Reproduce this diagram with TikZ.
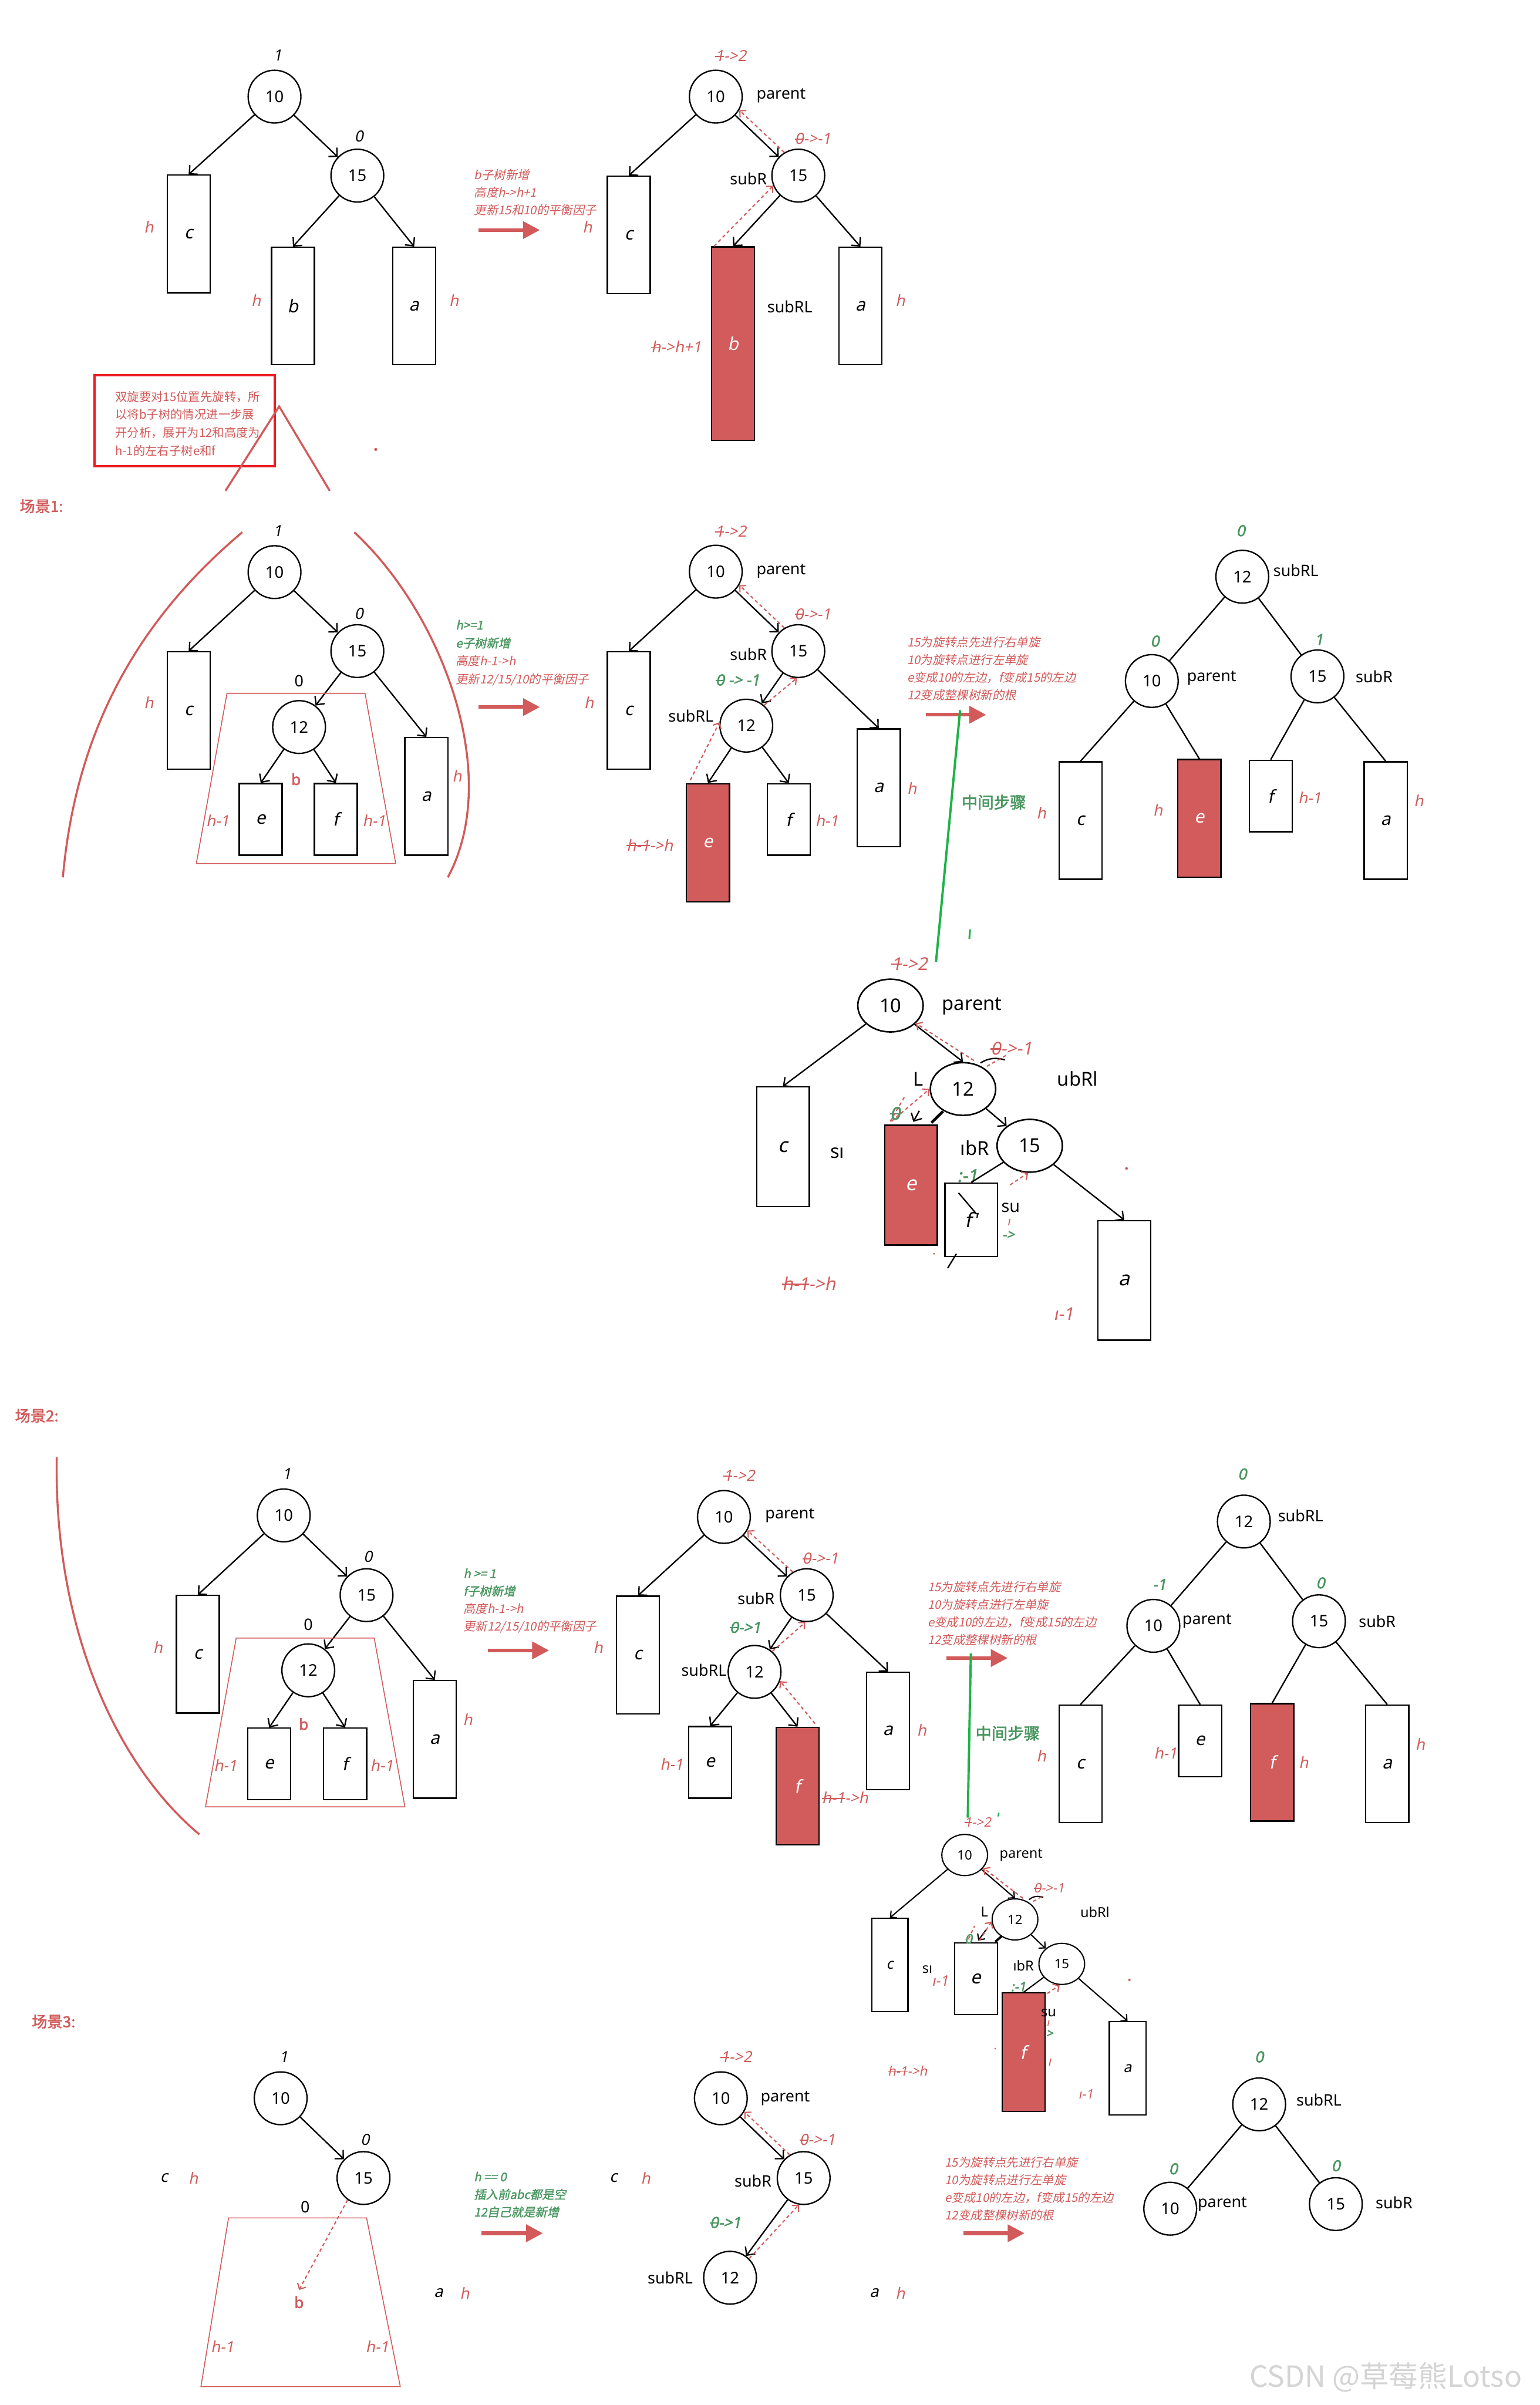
\documentclass[tikz,border=0pt]{standalone}
\usepackage{fontspec}
\setmainfont{Noto Sans}
\newfontfamily\itf{Noto Sans}[FakeSlant=0.2]
\newfontfamily\itfb{Noto Sans}[FakeSlant=0.2,FakeBold=2]
\newfontfamily\sfb{Noto Sans}[FakeBold=2]
\newfontfamily\cjk{Noto Sans CJK SC}
\newfontfamily\cjki{Noto Sans CJK SC}[FakeSlant=0.2]
\newfontfamily\cjkb{Noto Sans CJK SC}[FakeBold=2]
\newfontfamily\cjkib{Noto Sans CJK SC}[FakeSlant=0.2,FakeBold=1.5]
\usetikzlibrary{arrows.meta,shapes.geometric}
\definecolor{redt}{RGB}{210,90,90}
\definecolor{boxred}{RGB}{210,92,92}
\definecolor{greent}{RGB}{72,150,95}
\definecolor{lgreen}{RGB}{30,178,72}
\definecolor{frame}{RGB}{236,28,36}
\definecolor{wm}{RGB}{212,212,212}
\newsavebox\stkbox
\newcommand\stk[1]{\sbox\stkbox{#1}\rlap{\rule[0.3em]{\wd\stkbox}{0.075em}}\usebox\stkbox}
\tikzset{
  nd/.style={circle, draw, line width=0.9pt, minimum size=34.4pt, inner sep=0pt, font=\fontsize{10.5}{12}\selectfont},
  ndF/.style={ellipse, draw, line width=1pt, minimum width=42.6pt, minimum height=34.4pt, inner sep=0pt, font=\fontsize{12.5}{14}\selectfont},
  ndJ/.style={ellipse, draw, line width=0.8pt, minimum width=29.8pt, minimum height=26.8pt, inner sep=0pt, font=\fontsize{8.5}{10}\selectfont},
  bx/.style={rectangle, draw, line width=0.9pt, minimum width=28pt, inner sep=0pt, font=\itf\fontsize{11.5}{12}\selectfont},
  hh/.style={minimum height=76.6pt},
  hm/.style={minimum height=46.6pt},
  rbx/.style={fill=boxred, text=white},
  lbl/.style={inner sep=0pt, font=\fontsize{10.3}{12}\selectfont},
  rl/.style={inner sep=0pt, text=redt, font=\itf\fontsize{10}{12}\selectfont},
  gl/.style={inner sep=0pt, text=greent, font=\itfb\fontsize{10}{12}\selectfont},
  kl/.style={inner sep=0pt, font=\itf\fontsize{10}{12}\selectfont},
  rbl/.style={inner sep=0pt, text=redt, font=\sfb\fontsize{10}{12}\selectfont},
  ar/.style={line width=0.9pt, -{Straight Barb[length=4pt,width=8pt]}},
  arJ/.style={line width=0.8pt, -{Straight Barb[length=3pt,width=6pt]}},
  ln/.style={line width=0.9pt},
  dar/.style={draw=redt, line width=0.8pt, dash pattern=on 2.2pt off 1.8pt, -{Straight Barb[length=3pt,width=6pt]}},
  dln/.style={draw=redt, line width=0.8pt, dash pattern=on 2.2pt off 1.8pt},
  tha/.style={draw=redt, line width=2.4pt, -{Triangle[length=11pt,width=11pt]}},
  note/.style={inner sep=0pt, anchor=north west, align=left, text=redt, font=\cjki\fontsize{7.8}{11.5}\selectfont},
  trap/.style={draw=redt, line width=0.6pt},
  bigc/.style={draw=redt, line width=1.3pt},
  sc/.style={inner sep=0pt, text=redt, font=\cjkb\fontsize{10}{12}\selectfont},
  zh/.style={inner sep=0pt, text=greent, font=\cjkb\fontsize{10.5}{12}\selectfont},
}
\begin{document}
\begin{tikzpicture}[x=1pt,y=-1pt]
\useasboundingbox (0,0) rectangle (1004,1568);
\fill[white] (0,0) rectangle (1004,1568);

% ================= TOP : tree A
\node[nd] (A10) at (179,63) {10};
\node[nd] (A15) at (233,114.5) {15};
\node[kl] (A1) at (181,36) {1};
\node[kl] (A2) at (234,89) {0};
\node[bx,hh] (Ac) at (123,152.5) {c};
\node[bx,hh] (Ab) at (191,199.5) {b};
\node[bx,hh] (Aa) at (270,199.5) {a};
\node[rl] (A3) at (97,148) {h};
\node[rl] (A4) at (167,196) {h};
\node[rl] (A5) at (296,196) {h};
\draw[ar] (A10) -- (Ac.north);
\draw[ar] (A10) -- (A15);
\draw[ar] (A15) -- (Ab.north);
\draw[ar] (A15) -- (Aa.north);

\node[note] (N1) at (309,110) {b子树新增\\高度h->h+1\\更新15和10的平衡因子};
\coordinate (T1s) at (312,150); \coordinate (T1e) at (352,150);
\draw[tha] (T1s) -- (T1e);

% tree B
\node[nd] (B10) at (466.7,63) {10};
\node[nd] (B15) at (520.5,114.5) {15};
\node[rl] (B1) at (476.5,36.5) {\stk{1}->2};
\node[lbl] (B2) at (509.3,62.5) {parent};
\node[lbl] (B3) at (488,116.5) {subR};
\node[rl] (B4) at (530,90.5) {\stk{0}->-1};
\node[bx,hh] (Bc) at (410,153.2) {c};
\node[bx,rbx,minimum height=126pt] (Bb) at (478,224) {b};
\node[bx,hh] (Ba) at (561,199.5) {a};
\node[rl] (B5) at (383,148) {h};
\node[lbl] (B6) at (515,200) {subRL};
\node[rl] (B7) at (441,226) {\stk{h}->h+1};
\node[rl] (B8) at (587,196) {h};
\draw[ar] (B10) -- (Bc.north);
\draw[ar] (B10) -- (B15);
\draw[ar] (B15) -- (Bb.north);
\draw[ar] (B15) -- (Ba.north);
\draw[dar] (B15.121) -- (B10.-30);
\draw[dar] ([xshift=2pt]Bb.north west) -- (B15.-158);

% red frame note
\node[draw=frame, line width=1.6pt, minimum width=117.5pt, minimum height=59.5pt, inner sep=0pt] (RB) at (120.25,274.25) {};
\node[inner sep=0pt, anchor=north west, align=left, text=redt, font=\cjk\fontsize{7.8}{11.8}\selectfont] (RT) at (75,254.7)
  {双旋要对15位置先旋转，所\\以将b子树的情况进一步展\\开分析，展开为12和高度为\\h-1的左右子树e和f};
\coordinate (P1) at (147,320); \coordinate (P2) at (182,265); \coordinate (P3) at (215,320);
\draw[bigc] (P1) -- (P2) -- (P3);
\fill[redt] (245,293) circle (1pt);

\node[sc] (S1) at (27,330) {场景1:};

% ================= SCENE 1 : tree C
\node[nd] (C10) at (179,373) {10};
\node[nd] (C15) at (233,424.5) {15};
\node[nd] (C12) at (195,474) {12};
\node[kl] (C1) at (181,346) {1};
\node[kl] (C2) at (234,400) {0};
\node[lbl] (C3) at (195,444) {0};
\node[bx,hh] (Cc) at (123,463.2) {c};
\node[bx,hm] (Ce) at (170,534.2) {e};
\node[bx,hm] (Cf) at (219,534.2) {f};
\node[bx,hh] (Ca) at (278,519.2) {a};
\node[rl] (C4) at (97,458) {h};
\node[rl] (C5) at (142,535) {h-1};
\node[rl] (C6) at (244,535) {h-1};
\node[rbl] (C7) at (193,508) {b};
\node[rl] (C8) at (298,506) {h};
\draw[ar] (C10) -- (Cc.north);
\draw[ar] (C10) -- (C15);
\draw[ar] (C15) -- (C12);
\draw[ar] (C15) -- (Ca.north);
\draw[ar] (C12) -- (Ce.north);
\draw[ar] (C12) -- (Cf.north);
\draw[trap] (148,452) -- (238,452) -- (258,563) -- (128,563) -- cycle;
\draw[bigc] (158,347) .. controls (95,400) and (50,470) .. (41,572);
\draw[bigc] (231,347) .. controls (288,400) and (328,505) .. (292,572);

\node[note, font=\cjki\fontsize{7.8}{11.8}\selectfont] (N2) at (297,404)
  {{\color{greent}\cjkib h>=1}\\{\color{greent}\cjkib e子树新增}\\高度h-1->h\\更新12/15/10的平衡因子};
\coordinate (T2s) at (312,461); \coordinate (T2e) at (352,461);
\draw[tha] (T2s) -- (T2e);

% tree D
\node[nd] (D10) at (466.7,372.7) {10};
\node[nd] (D15) at (520.5,424.5) {15};
\node[nd] (D12) at (486.6,473.1) {12};
\node[rl] (D1) at (476.5,346.5) {\stk{1}->2};
\node[lbl] (D2) at (509.3,372.6) {parent};
\node[lbl] (D3) at (488,426.5) {subR};
\node[rl] (D4) at (530,400.4) {\stk{0}->-1};
\node[gl] (D5) at (481,443.3) {\stk{0} -> -1};
\node[lbl] (D6) at (450.5,466.8) {subRL};
\node[bx,hh] (Dc) at (410,463.3) {c};
\node[bx,rbx,minimum height=77.1pt] (De) at (461.6,549.5) {e};
\node[bx,hm] (Df) at (514.3,534.3) {f};
\node[bx,hh] (Da) at (573,513.6) {a};
\node[rl] (D7) at (384,458) {h};
\node[rl] (D8) at (423.7,551) {\stk{h-1}->h};
\node[rl] (D9) at (539.2,535) {h-1};
\node[rl] (D11) at (594.6,513.9) {h};
\draw[ar] (D10) -- (Dc.north);
\draw[ar] (D10) -- (D15);
\draw[ar] (D15) -- (D12);
\draw[ar] (D15) -- (Da.north);
\draw[ar] (D12) -- (De.north);
\draw[ar] (D12) -- (Df.north);
\draw[dar] (D15.121) -- (D10.-30);
\draw[dar] (D12.49) -- (D15.-93);
\draw[dar] ([xshift=3pt,yshift=2pt]De.north west) -- (D12.173);

\node[note] (N3) at (591.3,415)
  {15为旋转点先进行右单旋\\10为旋转点进行左单旋\\e变成10的左边，f变成15的左边\\12变成整棵树新的根};
\coordinate (T3s) at (603.7,466); \coordinate (T3e) at (643,466);
\draw[tha] (T3s) -- (T3e);
\coordinate (G1s) at (626,463); \coordinate (G1e) at (610.3,627);
\draw[lgreen, line width=1.5pt] (G1s) -- (G1e);
\draw[lgreen, line width=1.2pt] (632.5,606) -- (632,612);
\node[zh] (Z1) at (648,523) {中间步骤};

% tree E
\node[nd] (E12) at (810,376) {12};
\node[nd] (E10) at (751,444) {10};
\node[nd] (E15) at (859,441) {15};
\node[gl] (E1) at (809,346) {0};
\node[lbl] (E2) at (845,372) {subRL};
\node[gl] (E3) at (753,418) {0};
\node[lbl] (E4) at (790,442) {parent};
\node[gl] (E5) at (860,417) {1};
\node[lbl] (E6) at (896,441) {subR};
\node[bx,hh] (Ec) at (704.5,535) {c};
\node[bx,hh,rbx] (Ee) at (782,533.5) {e};
\node[bx,hm] (Ef) at (828.5,519) {f};
\node[bx,hh] (Ea) at (903.5,535) {a};
\node[rl] (E7) at (679,530) {h};
\node[rl] (E8) at (755,528) {h};
\node[rl] (E9) at (854,520) {h-1};
\node[rl] (E11) at (925,522) {h};
\draw[ln] (E12) -- (E10);
\draw[ln] (E12) -- (E15);
\draw[ln] (E10) -- (Ec.north);
\draw[ln] (E10) -- (Ee.north);
\draw[ln] (E15) -- (Ef.north);
\draw[ln] (E15) -- (Ea.north);

% tree F (intermediate, scene 1)
\node[ndF] (F10) at (580.6,655.6) {10};
\node[ndF] (F12) at (627.9,710) {12};
\node[ndF] (F15) at (671.4,747) {15};
\node[rl, font=\itf\fontsize{11.5}{12}\selectfont] (F1) at (593,628.4) {\stk{1}->2};
\node[lbl, font=\fontsize{12.5}{14}\selectfont] (F2) at (633.8,656) {parent};
\node[rl, font=\itf\fontsize{11.5}{12}\selectfont] (F3) at (659.5,683.7) {\stk{0}->-1};
\node[lbl, font=\fontsize{12.5}{14}\selectfont] (F4) at (598.9,703.5) {L};
\node[lbl, font=\fontsize{12.5}{14}\selectfont] (F5) at (702.6,703.5) {ubRl};
\node[lbl, font=\fontsize{12.5}{14}\selectfont] (F6) at (635.5,748.4) {ıbR};
\node[lbl, font=\fontsize{12.5}{14}\selectfont] (F7) at (545.9,751.8) {sı};
\node[bx, minimum width=34.3pt, minimum height=78.1pt, font=\itf\fontsize{13}{14}\selectfont] (Fc) at (510.5,747.7) {c};
\node[bx, rbx, minimum width=34.2pt, minimum height=78pt, font=\itf\fontsize{13}{14}\selectfont] (Fe) at (594.1,772.7) {e};
\node[bx, minimum width=34.3pt, minimum height=47.8pt, font=\itf\fontsize{13}{14}\selectfont] (Ff) at (633.3,795.2) {f'};
\node[bx, minimum width=34.5pt, minimum height=78pt, font=\itf\fontsize{13}{14}\selectfont] (Fa) at (733,834.8) {a};
\node[gl, font=\itfb\fontsize{11.5}{12}\selectfont] (F8) at (583.6,725.9) {\stk{0}};
\node[gl, font=\itfb\fontsize{11.5}{12}\selectfont] (F9) at (630.8,766.5) {:-1};
\node[lbl, font=\fontsize{11}{12}\selectfont] (F11) at (659,787.5) {su};
\node[rl, font=\itf\fontsize{8}{9}\selectfont] (F13) at (657.7,797) {ı};
\node[gl, font=\itfb\fontsize{9}{10}\selectfont] (F14) at (657.4,805.3) {->};
\node[rl, font=\itf\fontsize{11.5}{12}\selectfont] (F16) at (527.4,836.9) {\stk{h-1}->h};
\node[rl, font=\itf\fontsize{11.5}{12}\selectfont] (F17) at (693.5,856.5) {ı-1};
\draw[ar] (F10) -- (Fc.north);
\draw[ar] (F10) -- (F12.north);
\draw[ar] (F12) -- (F15);
\draw[ar] (F15) -- (Fa.north);
\draw[ln] (F15) -- (Ff.north);
\draw[ar] (599.4,724.2) -- (595.5,731.4);
\draw[line width=1.8pt] (614.9,724.5) -- (607.3,732);
\draw[ln] (625,777.7) -- (636.7,791.5);
\draw[ln] (623.6,817.4) -- (617.9,826.8);
\draw[ln] (639.3,693) .. controls (645,689.5) and (650,689.5) .. (655.2,691);
\draw[dar] (635,691.4) -- (F10.-35);
\draw[dln] (643.5,695.2) -- (656.1,688);
\draw[dar] (581.2,731.1) -- (F12.180);
\draw[dln] (580.4,731.1) -- (590,714.7);
\draw[dar] (658.6,772.5) -- (670.4,764.7);
\fill[redt] (734.5,761.8) circle (0.9pt);
\fill[redt] (609,817.4) circle (0.7pt);

% ================= SCENE 2
\node[sc] (S2) at (24,923) {场景2:};
\draw[bigc] (37,950) .. controls (35,1060) and (75,1150) .. (130,1196);

% tree G
\node[nd] (G10) at (185,988) {10};
\node[nd] (G15) at (239,1040) {15};
\node[nd] (G12) at (201,1089) {12};
\node[kl] (G1) at (187,961) {1};
\node[kl] (G2) at (240,1015) {0};
\node[lbl] (G3) at (201,1059) {0};
\node[bx,hh] (Gc) at (129,1078.5) {c};
\node[bx,hm] (Ge) at (175.5,1150) {e};
\node[bx,hm] (Gf) at (225,1150) {f};
\node[bx,hh] (Ga) at (283.5,1134) {a};
\node[rl] (G4) at (103,1074) {h};
\node[rl] (G5) at (147,1151) {h-1};
\node[rl] (G6) at (249,1151) {h-1};
\node[rbl] (G7) at (198,1124) {b};
\node[rl] (G8) at (305,1121) {h};
\draw[ar] (G10) -- (Gc.north);
\draw[ar] (G10) -- (G15);
\draw[ar] (G15) -- (G12);
\draw[ar] (G15) -- (Ga.north);
\draw[ar] (G12) -- (Ge.north);
\draw[ar] (G12) -- (Gf.north);
\draw[trap] (154,1068) -- (244,1068) -- (264,1178) -- (134,1178) -- cycle;

\node[note] (N4) at (302,1022.4)
  {{\color{greent}\cjkib h >= 1}\\{\color{greent}\cjkib f子树新增}\\高度h-1->h\\更新12/15/10的平衡因子};
\coordinate (T4s) at (318,1076); \coordinate (T4e) at (358,1076);
\draw[tha] (T4s) -- (T4e);

% tree H
\node[nd] (H10) at (472,989) {10};
\node[nd] (H15) at (526,1040) {15};
\node[nd] (H12) at (492,1090) {12};
\node[rl] (H1) at (482,962) {\stk{1}->2};
\node[lbl] (H2) at (515,988) {parent};
\node[lbl] (H3) at (493,1042) {subR};
\node[rl] (H4) at (535,1016) {\stk{0}->-1};
\node[lbl] (H5) at (459,1089) {subRL};
\node[gl] (H6) at (486,1061) {\stk{0}->1};
\node[bx,hh] (Hc) at (416,1079) {c};
\node[bx,hm] (He) at (463,1149) {e};
\node[bx,hh,rbx] (Hf) at (520,1164.5) {f};
\node[bx,hh] (Ha) at (579,1128.5) {a};
\node[rl] (H7) at (390,1074) {h};
\node[rl] (H8) at (438,1150) {h-1};
\node[rl] (H9) at (551,1172) {\stk{h-1}->h};
\node[rl] (H11) at (601,1128) {h};
\draw[ar] (H10) -- (Hc.north);
\draw[ar] (H10) -- (H15);
\draw[ar] (H15) -- (H12);
\draw[ar] (H15) -- (Ha.north);
\draw[ar] (H12) -- (He.north);
\draw[ar] (H12) -- (Hf.north);
\draw[dar] (H15.121) -- (H10.-30);
\draw[dar] (H12.49) -- (H15.-93);
\draw[dar] ([xshift=-3pt,yshift=2pt]Hf.north east) -- (H12.-20);

\node[note] (N5) at (604.7,1030.8)
  {15为旋转点先进行右单旋\\10为旋转点进行左单旋\\e变成10的左边，f变成15的左边\\12变成整棵树新的根};
\coordinate (T5s) at (617,1081); \coordinate (T5e) at (657,1081);
\draw[tha] (T5s) -- (T5e);
\coordinate (G2s) at (633,1078); \coordinate (G2e) at (631,1185);
\draw[lgreen, line width=1.5pt] (G2s) -- (G2e);
\node[zh] (Z2) at (657,1130) {中间步骤};

% tree I
\node[nd] (I12) at (811,992) {12};
\node[nd] (I10) at (752,1060) {10};
\node[nd] (I15) at (860,1057) {15};
\node[gl] (I1) at (810,961) {0};
\node[lbl] (I2) at (848,988) {subRL};
\node[gl] (I3) at (756,1033) {-1};
\node[lbl] (I4) at (787,1057) {parent};
\node[gl] (I5) at (861,1032) {0};
\node[lbl] (I6) at (898,1057) {subR};
\node[bx,hh] (Ic) at (704.5,1150) {c};
\node[bx,hm] (Ie) at (782.5,1135) {e};
\node[bx,hh,rbx] (If) at (829.5,1149) {f};
\node[bx,hh] (Ia) at (904.5,1150) {a};
\node[rl] (I7) at (679,1145) {h};
\node[rl] (I8) at (760,1143) {h-1};
\node[rl] (I9) at (850,1149) {h};
\node[rl] (I11) at (926,1137) {h};
\draw[ln] (I12) -- (I10);
\draw[ln] (I12) -- (I15);
\draw[ln] (I10) -- (Ic.north);
\draw[ln] (I10) -- (Ie.north);
\draw[ln] (I15) -- (If.north);
\draw[ln] (I15) -- (Ia.north);

% tree J (intermediate, scene 2)
\node[ndJ] (J10) at (629,1209.4) {10};
\node[ndJ] (J12) at (661.8,1251.4) {12};
\node[ndJ] (J15) at (692.3,1280.4) {15};
\node[rl, font=\itf\fontsize{8.5}{10}\selectfont] (J1) at (637.5,1188) {\stk{1}->2};
\node[inner sep=0pt, text=lgreen, font=\itfb\fontsize{8.5}{10}\selectfont] (J1b) at (650,1185) {'};
\node[lbl, font=\fontsize{9}{10}\selectfont] (J2) at (665.8,1209.6) {parent};
\node[rl, font=\itf\fontsize{8.5}{10}\selectfont] (J3) at (684,1231) {\stk{0}->-1};
\node[lbl, font=\fontsize{9}{10}\selectfont] (J4) at (641.9,1246.6) {L};
\node[lbl, font=\fontsize{9}{10}\selectfont] (J5) at (713.9,1246.6) {ubRl};
\node[lbl, font=\fontsize{9}{10}\selectfont] (J6) at (667.3,1281.4) {ıbR};
\node[lbl, font=\fontsize{9}{10}\selectfont] (J7) at (604.7,1284) {sı};
\node[rl, font=\itf\fontsize{9.5}{10}\selectfont] (J8) at (613,1291.5) {ı-1};
\node[bx, line width=0.8pt, minimum width=23.6pt, minimum height=60.8pt, font=\itf\fontsize{9.5}{10}\selectfont] (Jc) at (580.2,1281.1) {c};
\node[bx, line width=0.8pt, minimum width=28pt, minimum height=46.9pt, font=\itf\fontsize{12}{12}\selectfont] (Je) at (636.5,1290) {e};
\node[bx, rbx, line width=0.8pt, minimum width=28pt, minimum height=77.3pt, font=\itf\fontsize{12}{12}\selectfont] (Jf) at (667.3,1338) {f};
\node[bx, line width=0.8pt, minimum width=23.8pt, minimum height=60.7pt, font=\itf\fontsize{9.5}{10}\selectfont] (Ja) at (735.2,1348.4) {a};
\node[gl, font=\itfb\fontsize{8.5}{10}\selectfont] (J9) at (631.5,1264.1) {\stk{0}};
\node[gl, font=\itfb\fontsize{8.5}{10}\selectfont] (J11) at (664,1295.3) {:-1};
\node[lbl, font=\fontsize{9}{10}\selectfont] (J13) at (683.7,1312.2) {su};
\node[rl, font=\itf\fontsize{7}{8}\selectfont] (J14) at (683.3,1319) {ı};
\node[gl, font=\itfb\fontsize{8}{9}\selectfont] (J16) at (684.3,1326) {>};
\node[rl, font=\itf\fontsize{8.5}{10}\selectfont] (J17) at (684.3,1344.6) {ı};
\node[rl, font=\itf\fontsize{8.5}{10}\selectfont] (J18) at (591.7,1350) {\stk{h-1}->h};
\node[rl, font=\itf\fontsize{8.5}{10}\selectfont] (J19) at (708,1365.3) {ı-1};
\draw[arJ] (J10) -- (Jc.north);
\draw[arJ] (J10) -- (J12.north);
\draw[arJ] (J12) -- (J15);
\draw[arJ] (J15) -- (Ja.north);
\draw[line width=0.8pt] (J15) -- (Jf.north);
\draw[arJ] (642.8,1258.3) -- (637.8,1265.2);
\draw[line width=1.5pt] (652.9,1262.5) -- (648.9,1266);
\draw[line width=0.8pt] (670.9,1238.5) .. controls (674,1236) and (677,1236) .. (680.3,1237);
\draw[dar] (666.9,1237.6) -- (J10.-35);
\draw[dln] (673.6,1239.7) -- (679.6,1236.3);
\draw[dar] (638.6,1265.2) -- (J12.185);
\draw[dln] (631.5,1264) -- (635.5,1255.6);
\draw[dar] (682.9,1299.7) -- (690.9,1294.2);
\fill[redt] (736.4,1290.8) circle (0.8pt);
\fill[redt] (648.9,1335.6) circle (0.6pt);

% ================= SCENE 3
\node[sc] (S3) at (35,1318) {场景3:};
% tree K
\node[nd] (K10) at (183,1368) {10};
\node[nd] (K15) at (237,1420) {15};
\node[kl] (K1) at (185,1341) {1};
\node[kl] (K2) at (238,1395) {0};
\node[kl, font=\itf\fontsize{10.5}{12}\selectfont] (K3) at (107,1420) {c};
\node[rl] (K4) at (126,1420) {h};
\node[lbl] (K5) at (199,1439) {0};
\node[rbl] (Kb) at (195,1501) {b};
\node[rl] (K6) at (145,1530) {h-1};
\node[rl] (K7) at (246,1530) {h-1};
\node[kl, font=\itf\fontsize{10.5}{12}\selectfont] (K8) at (286,1495) {a};
\node[rl] (K9) at (303,1495) {h};
\draw[ar] (K10) -- (K15);
\draw[trap] (149,1446) -- (239,1446) -- (261,1556) -- (131,1556) -- cycle;
\draw[dar] (K15.-126) -- ([yshift=4pt]Kb.north);

\node[note, text=greent, font=\cjkib\fontsize{7.8}{11.5}\selectfont] (N6) at (308.8,1415.7)
  {h == 0\\插入前abc都是空\\12自己就是新增};
\coordinate (T6s) at (314,1456); \coordinate (T6e) at (354,1456);
\draw[tha] (T6s) -- (T6e);

% tree L
\node[nd] (L10) at (470,1368) {10};
\node[nd] (L15) at (524,1420) {15};
\node[nd] (L12) at (476,1485) {12};
\node[rl] (L1) at (480,1341) {\stk{1}->2};
\node[lbl] (L2) at (512,1368) {parent};
\node[lbl] (L3) at (491,1422) {subR};
\node[rl] (L4) at (533,1395) {\stk{0}->-1};
\node[kl, font=\itf\fontsize{10.5}{12}\selectfont] (L5) at (400,1420) {c};
\node[rl] (L6) at (421,1420) {h};
\node[lbl] (L7) at (437,1485) {subRL};
\node[gl] (L8) at (473,1449) {\stk{0}->1};
\node[kl, font=\itf\fontsize{10.5}{12}\selectfont] (L9) at (570,1495) {a};
\node[rl] (L11) at (587,1495) {h};
\draw[ar] (L10) -- (L15);
\draw[ar] (L15) -- (L12);
\draw[dar] (L15.121) -- (L10.-30);
\draw[dar] (L12.45) -- (L15.-100);

\node[note] (N7) at (616,1406)
  {15为旋转点先进行右单旋\\10为旋转点进行左单旋\\e变成10的左边，f变成15的左边\\12变成整棵树新的根};
\coordinate (T7s) at (628,1456); \coordinate (T7e) at (668,1456);
\draw[tha] (T7s) -- (T7e);

% tree M
\node[nd] (M12) at (821,1372) {12};
\node[nd] (M10) at (763,1440) {10};
\node[nd] (M15) at (871,1437) {15};
\node[gl] (M1) at (821,1341) {0};
\node[lbl] (M2) at (860,1369) {subRL};
\node[gl] (M3) at (765,1414) {0};
\node[lbl] (M4) at (797,1437) {parent};
\node[gl] (M5) at (871,1412) {0};
\node[lbl] (M6) at (909,1436) {subR};
\draw[ln] (M12) -- (M10);
\draw[ln] (M12) -- (M15);

\node[text=wm, inner sep=0pt, font=\cjk\fontsize{19}{20}\selectfont] (WM) at (903.5,1550) {CSDN @草莓熊Lotso};
\end{tikzpicture}
\end{document}
